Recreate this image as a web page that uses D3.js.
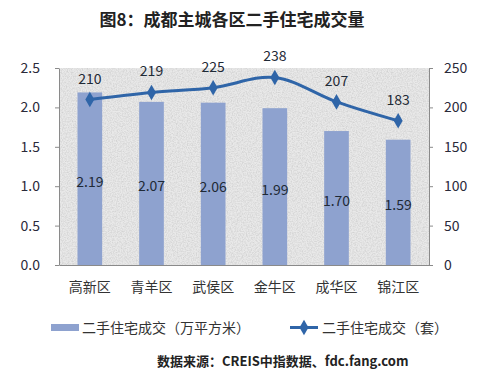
<!DOCTYPE html>
<html><head><meta charset="utf-8">
<script src="https://cdn.jsdelivr.net/npm/d3@7"></script>
<style>body{margin:0;background:#fff;}svg{display:block;}</style>
</head><body>
<svg id="c" width="490" height="390"></svg>
<script>
const categories = ["高新区","青羊区","武侯区","金牛区","成华区","锦江区"];
const areaValues = [2.19, 2.07, 2.06, 1.99, 1.70, 1.59];
const unitValues = [210, 219, 225, 238, 207, 183];
const leftTicks = [0, 0.5, 1.0, 1.5, 2.0, 2.5];
const rightTicks = [0, 50, 100, 150, 200, 250];
const title = "图8：成都主城各区二手住宅成交量";
const legendLabels = ["二手住宅成交（万平方米）", "二手住宅成交（套）"];
const source = "数据来源：CREIS中指数据、fdc.fang.com";

const svg = d3.select("#c");
const font = "'Microsoft YaHei','Noto Sans CJK SC',sans-serif";
const m = {l:59, r:429, t:68, b:265};
const x = d3.scaleBand().domain(categories).range([m.l, m.r]).paddingInner(0.6).paddingOuter(0.3);
const xc = d3.scalePoint().domain(categories).range([m.l, m.r]).padding(0.5);
const yL = d3.scaleLinear().domain([0, 2.5]).range([m.b, m.t]);
const yR = d3.scaleLinear().domain([0, 250]).range([m.b, m.t]);

// texture
const defs = svg.append("defs");
const f = defs.append("filter").attr("id","noise").attr("x",0).attr("y",0).attr("width","100%").attr("height","100%");
f.append("feTurbulence").attr("type","fractalNoise").attr("baseFrequency",0.8).attr("numOctaves",2).attr("seed",3).attr("result","n");
f.append("feColorMatrix").attr("in","n").attr("type","matrix")
 .attr("values","0 0 0 0 0.6  0 0 0 0 0.6  0 0 0 0 0.6  0 0 0 1.6 -0.55").attr("result","g");
f.append("feComposite").attr("in","g").attr("in2","SourceGraphic").attr("operator","atop");

svg.append("rect").attr("x",m.l).attr("y",m.t).attr("width",m.r-m.l).attr("height",m.b-m.t).attr("fill","#e9e9e9");
svg.append("rect").attr("x",m.l).attr("y",m.t).attr("width",m.r-m.l).attr("height",m.b-m.t).attr("fill","#e9e9e9").attr("filter","url(#noise)");

// title
svg.append("text").attr("x",232).attr("y",26).attr("text-anchor","middle")
 .attr("font-family",font).attr("font-weight","bold").attr("font-size",17).attr("fill","#222").text(title);

// axes
const gL = svg.append("g").attr("transform",`translate(${m.l},0)`)
 .call(d3.axisLeft(yL).tickValues(leftTicks).tickFormat(d3.format(".1f")).tickSize(4).tickSizeOuter(0));
const gR = svg.append("g").attr("transform",`translate(${m.r},0)`)
 .call(d3.axisRight(yR).tickValues(rightTicks).tickFormat(d3.format("d")).tickSize(4).tickSizeOuter(0));
[gL,gR].forEach(g=>{
  g.select(".domain").attr("stroke","#8a8a8a");
  g.selectAll(".tick line").attr("stroke","#8a8a8a");
  g.selectAll(".tick text").attr("font-family",font).attr("font-size",14).attr("fill","#2a2a3a");
});
gL.selectAll(".tick text").attr("x",-19);
gR.selectAll(".tick text").attr("x",15);
const gB = svg.append("g").attr("transform",`translate(0,${m.b})`)
 .call(d3.axisBottom(x).tickSize(0).tickSizeOuter(0));
gB.select(".domain").attr("stroke","#8a8a8a");
gB.selectAll(".tick text").attr("font-family",font).attr("font-size",14).attr("fill","#333").attr("dy","1.7em");

// bars
svg.append("g").selectAll("rect").data(areaValues).join("rect")
 .attr("x",(d,i)=>x(categories[i])).attr("width",x.bandwidth())
 .attr("y",d=>yL(d)).attr("height",d=>yL(0)-yL(d)).attr("fill","#8EA2CF");
svg.append("g").selectAll("text").data(areaValues).join("text")
 .attr("x",(d,i)=>xc(categories[i])).attr("y",d=>(yL(d)+yL(0))/2+8)
 .attr("text-anchor","middle").attr("font-family",font).attr("font-size",14).attr("fill","#1f2a36")
 .text(d=>d3.format(".2f")(d));

// line
const line = d3.line().x((d,i)=>xc(categories[i])).y(d=>yR(d)).curve(d3.curveCatmullRom.alpha(0.5));
svg.append("path").datum(unitValues).attr("d",line).attr("fill","none").attr("stroke","#2F65A8").attr("stroke-width",3);
const diamond = d3.symbol().type(d3.symbolDiamond).size(70);
svg.append("g").selectAll("path").data(unitValues).join("path")
 .attr("transform",(d,i)=>`translate(${xc(categories[i])},${yR(d)})`).attr("d",diamond).attr("fill","#2F65A8");
svg.append("g").selectAll("text").data(unitValues).join("text")
 .attr("x",(d,i)=>xc(categories[i])).attr("y",d=>yR(d)-16)
 .attr("text-anchor","middle").attr("font-family",font).attr("font-size",14).attr("fill","#1f2a36").text(d=>d);

// legend
svg.append("rect").attr("x",51).attr("y",324).attr("width",28).attr("height",7).attr("fill","#8EA2CF");
svg.append("text").attr("x",82).attr("y",333).attr("font-family",font).attr("font-size",14).attr("fill","#333").text(legendLabels[0]);
svg.append("line").attr("x1",290).attr("x2",318).attr("y1",327.5).attr("y2",327.5).attr("stroke","#2F65A8").attr("stroke-width",3);
svg.append("path").attr("transform","translate(304,327.5)").attr("d",diamond).attr("fill","#2F65A8");
svg.append("text").attr("x",322).attr("y",333).attr("font-family",font).attr("font-size",14).attr("fill","#333").text(legendLabels[1]);

// source
svg.append("text").attr("x",157).attr("y",366).attr("font-family",font).attr("font-weight","bold").attr("font-size",13).attr("fill","#222").text(source);
</script>
</body></html>
